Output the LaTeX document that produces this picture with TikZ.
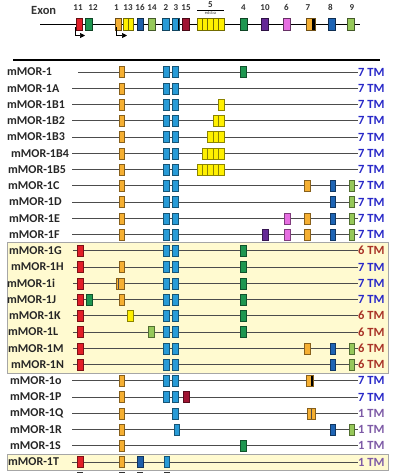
\documentclass[tikz,border=0pt]{standalone}
\usepackage{fontspec}
\setmainfont{Carlito}
\usetikzlibrary{arrows.meta}
\definecolor{cRed}{RGB}{226,30,40}
\definecolor{cGreen}{RGB}{30,150,80}
\definecolor{cOrange}{RGB}{245,175,50}
\definecolor{cYellow}{RGB}{255,240,0}
\definecolor{cNavy}{RGB}{30,95,170}
\definecolor{cLime}{RGB}{150,200,90}
\definecolor{cSky}{RGB}{40,155,215}
\definecolor{cMaroon}{RGB}{160,20,50}
\definecolor{cPurple}{RGB}{100,40,150}
\definecolor{cPink}{RGB}{230,110,225}
\definecolor{cBlue}{RGB}{30,100,180}
\definecolor{cBand}{RGB}{255,250,208}
\definecolor{tmBlue}{RGB}{40,40,200}
\definecolor{tmRed}{RGB}{168,50,38}
\definecolor{tmPurple}{RGB}{125,90,166}
\newcount\exc
\newcommand\exon[3]{\global\advance\exc by 1\relax\node[exon=#3] (x\the\exc) at (#1,#2) {};}
\newcommand\mrow[7]{%
  \node[lab] (L#2) at (#3,#1) {mMOR-#2};
  \coordinate (S#2) at (#4,#1);
  \node[tm,text=#6] (T#2) at (358,#1) {#5};
  \draw[gl] (S#2) -- (T#2.west);
  \foreach \xx/\cc in {#7} {\exon{\xx}{#1}{\cc}}%
}
\tikzset{
  exon/.style={fill=#1, draw=#1!55!black, line width=0.5pt, minimum width=5.5pt, minimum height=11pt, inner sep=0pt},
  hexon/.style={exon=#1, draw=#1!45!black, line width=0.7pt, minimum width=6.5pt, minimum height=12pt},
  lab/.style={anchor=west, inner sep=0pt, font=\bfseries\fontsize{12}{13}\selectfont, text=black!85},
  tm/.style={anchor=west, inner sep=0pt, font=\bfseries\fontsize{12.5}{13}\selectfont},
  gl/.style={draw=black!70, line width=0.7pt},
  hnum/.style={inner sep=0pt, font=\bfseries\fontsize{9}{10}\selectfont, text=black!80},
  band/.style={fill=cBand, draw=black!35, line width=0.5pt},
  blackright/.style={path picture={\fill[black] ([xshift=-#1]path picture bounding box.north east) rectangle (path picture bounding box.south east);}},
  split/.style={path picture={\draw[black!70, line width=0.5pt] ([xshift=#1]path picture bounding box.north west) -- ([xshift=#1]path picture bounding box.south west);}},
}
\begin{document}
\begin{tikzpicture}[x=1pt,y=-1pt]
\useasboundingbox (0,0) rectangle (392,474);
\fill[white] (0,0) rectangle (392,474);
% background bands
\path[band] (7,242.5) rectangle (388,373);
\path[band] (7,454) rectangle (388,470);
% header
\node[anchor=west, inner sep=0pt, font=\bfseries\fontsize{12.5}{13}\selectfont, text=black!80] (exonlab) at (31,10) {Exon};
\coordinate (hs) at (40,24);
\coordinate (he) at (360,24);
\draw[line width=0.9pt] (hs) -- (he);
\foreach \xx/\cc/\tt/\lx in {79.5/cRed/11/78, 89/cGreen/12/93, 118.5/cOrange/1/116.5, 140.5/cNavy/16/140, 152/cLime/14/152, 166/cSky/2/166, 186/cMaroon/15/186, 244/cGreen/4/243.5, 265/cPurple/10/265, 287/cPink/6/286.5, 332/cBlue/8/330.5, 351/cLime/9/352}{
  \node[hexon=\cc] (h\tt) at (\xx,24) {};
  \node[hnum] (n\tt) at (\lx,7.5) {\tt};
}
\node[hexon=cYellow, minimum width=5pt] (h13a) at (125.5,24) {};
\node[hexon=cYellow, minimum width=5pt] (h13b) at (130.5,24) {};
\node[hnum] (n13) at (128,7.5) {13};
\node[hexon=cSky, minimum width=7pt, blackright=2pt] (h3) at (176,24) {};
\node[hnum] (n3) at (176,7.5) {3};
\node[hexon=cOrange, minimum width=9pt, blackright=3pt] (h7) at (310.5,24) {};
\node[hnum] (n7) at (308,7.5) {7};
\foreach \k/\xx in {e/199.6,d/205,c/210.4,b/215.8,a/221.2}{
  \node[hexon=cYellow, minimum width=5.4pt] (h5\k) at (\xx,24) {};
}
\node[hnum] (n5) at (210.5,4.8) {5};
\coordinate (ol1) at (197,10.3);
\coordinate (ol2) at (224,10.3);
\draw[line width=0.6pt] (ol1) -- (ol2);
\node[inner sep=0pt, font=\fontsize{4.5}{5}\selectfont, text=black!75] (n5s) at (210.5,13.3) {edcba};
% promoter arrows
\coordinate (p1a) at (75,27);
\coordinate (p1b) at (75,35.5);
\coordinate (p1c) at (85,35.5);
\draw[line width=0.6pt, -{Triangle[length=5pt,width=5pt]}] (p1a) -- (p1b) -- (p1c);
\coordinate (p2a) at (116.5,27);
\coordinate (p2b) at (116.5,35.5);
\coordinate (p2c) at (127,35.5);
\draw[line width=0.6pt, -{Triangle[length=5pt,width=5pt]}] (p2a) -- (p2b) -- (p2c);
% separator
\coordinate (sep1) at (13,60);
\coordinate (sep2) at (380,60);
\draw[line width=1.6pt] (sep1) -- (sep2);
% rows
\mrow{72}{1}{7}{78}{7 TM}{tmBlue}{121.5/cOrange,166/cSky,175/cSky,243/cGreen}
\mrow{88.25}{1A}{7}{72}{7 TM}{tmBlue}{121.5/cOrange,166/cSky,175/cSky}
\mrow{104.5}{1B1}{7}{72}{7 TM}{tmBlue}{121.5/cOrange,166/cSky,175/cSky,221.2/cYellow}
\mrow{120.75}{1B2}{7}{72}{7 TM}{tmBlue}{121.5/cOrange,166/cSky,175/cSky,215.8/cYellow,221.2/cYellow}
\mrow{137}{1B3}{7}{72}{7 TM}{tmBlue}{121.5/cOrange,166/cSky,175/cSky,210.4/cYellow,215.8/cYellow,221.2/cYellow}
\mrow{153.25}{1B4}{11}{72}{7 TM}{tmBlue}{121.5/cOrange,166/cSky,175/cSky,205/cYellow,210.4/cYellow,215.8/cYellow,221.2/cYellow}
\mrow{169.5}{1B5}{8}{72}{7 TM}{tmBlue}{121.5/cOrange,166/cSky,175/cSky,199.6/cYellow,205/cYellow,210.4/cYellow,215.8/cYellow,221.2/cYellow}
\mrow{185.75}{1C}{8}{72}{7 TM}{tmBlue}{121.5/cOrange,166/cSky,175/cSky,307/cOrange,332.5/cBlue,351.5/cLime}
\mrow{202}{1D}{9}{72}{7 TM}{tmBlue}{121.5/cOrange,166/cSky,175/cSky,332.5/cBlue,351.5/cLime}
\mrow{218.25}{1E}{9}{72}{7 TM}{tmBlue}{121.5/cOrange,166/cSky,175/cSky,287/cPink,307/cOrange,332.5/cBlue,351.5/cLime}
\mrow{234.5}{1F}{9}{72}{7 TM}{tmBlue}{121.5/cOrange,166/cSky,175/cSky,265/cPurple,287/cPink,307/cOrange,332.5/cBlue,351.5/cLime}
\mrow{250.75}{1G}{9}{73}{6 TM}{tmRed}{80/cRed,166/cSky,175/cSky,243/cGreen}
\mrow{267}{1H}{11}{73}{7 TM}{tmBlue}{80/cRed,121.5/cOrange,166/cSky,175/cSky,243/cGreen}
\mrow{283.25}{1i}{7}{73}{7 TM}{tmBlue}{80/cRed,166/cSky,175/cSky,243/cGreen}
\node[exon=cOrange, minimum width=8.5pt, split=2.8pt] (i1) at (120,283.25) {};
\mrow{299.5}{1J}{7}{73}{7 TM}{tmBlue}{80/cRed,89/cGreen,121.5/cOrange,166/cSky,175/cSky,243/cGreen}
\mrow{315.75}{1K}{9}{73}{6 TM}{tmRed}{80/cRed,130/cYellow,166/cSky,175/cSky,243/cGreen}
\mrow{332}{1L}{8}{73}{6 TM}{tmRed}{80/cRed,151/cLime,166/cSky,175/cSky,243/cGreen}
\mrow{348.25}{1M}{8}{73}{6 TM}{tmRed}{80/cRed,166/cSky,175/cSky,307/cOrange,332.5/cBlue,351.5/cLime}
\mrow{364.5}{1N}{11}{73}{6 TM}{tmRed}{80/cRed,166/cSky,175/cSky,332.5/cBlue,351.5/cLime}
\mrow{380.75}{1o}{10}{72}{7 TM}{tmBlue}{121.5/cOrange,166/cSky,175/cSky}
\node[exon=cOrange, minimum width=7.5pt, blackright=2.5pt] (o7) at (309.5,380.75) {};
\mrow{397}{1P}{10}{72}{7 TM}{tmBlue}{121.5/cOrange,166/cSky,175/cSky,186/cMaroon}
\mrow{413.25}{1Q}{10}{72}{1 TM}{tmPurple}{121.5/cOrange,175/cSky}
\node[exon=cOrange, minimum width=8pt, split=4pt] (q7) at (311,413.25) {};
\mrow{429.5}{1R}{10}{72}{1 TM}{tmPurple}{121.5/cOrange,176.5/cSky,332.5/cBlue,351.5/cLime}
\mrow{445.75}{1S}{10}{72}{1 TM}{tmPurple}{121.5/cOrange,243/cGreen}
\mrow{462}{1T}{8}{72}{1 TM}{tmPurple}{80/cRed,121.5/cOrange,140/cNavy,166.5/cSky}
% cut-off marks at the bottom
\foreach \xx [count=\k] in {80,121.5,140,166.5}{
  \node[fill=black!80, minimum width=6pt, minimum height=1.6pt, inner sep=0pt] (b\k) at (\xx,472.5) {};
}
\end{tikzpicture}
\end{document}
